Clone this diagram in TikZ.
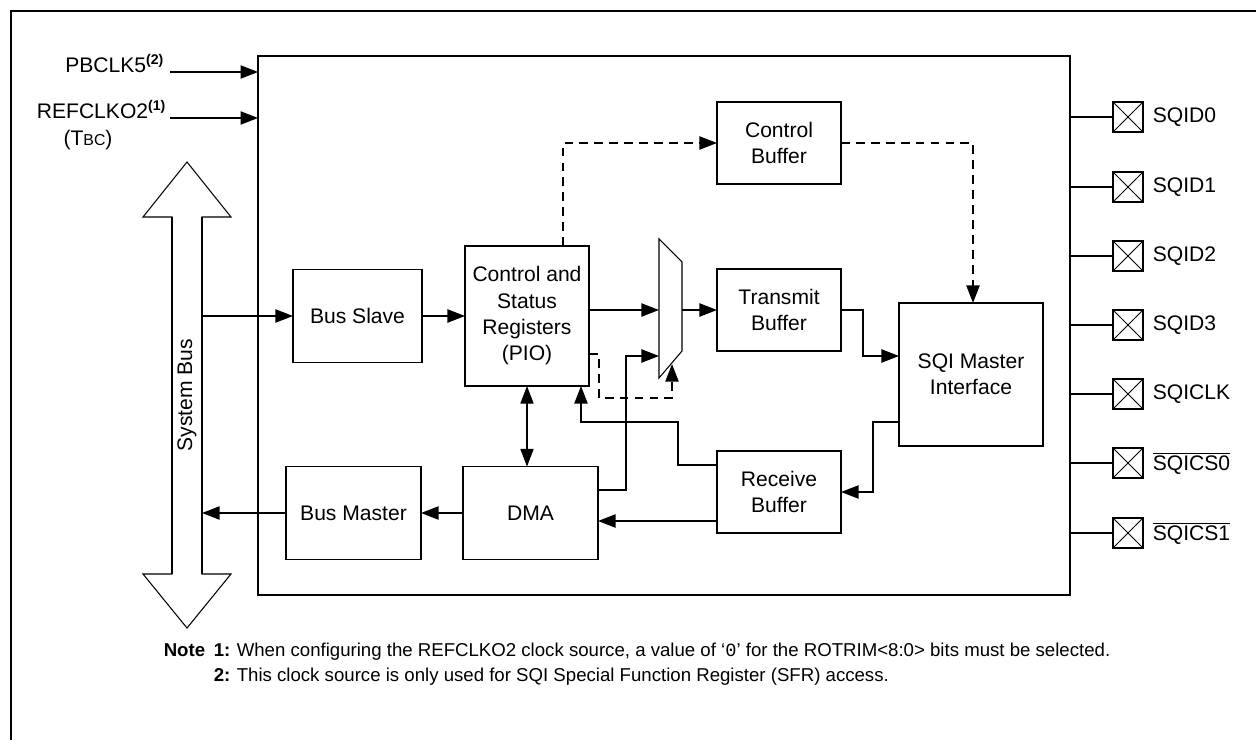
\documentclass[tikz,border=0pt]{standalone}
\usepackage{fontspec}
\setmainfont{Liberation Sans}
\setmonofont{Liberation Mono}
\usetikzlibrary{arrows.meta}

\begin{document}
\begin{tikzpicture}[x=0.02cm,y=-0.02cm,line width=0.9pt,
	blk/.style={draw,rectangle,inner sep=1pt,outer sep=0pt,align=center,font=\fontsize{12}{15}\selectfont},
	lbl/.style={inner sep=0pt,font=\fontsize{12}{15}\selectfont},
	arr/.style={-{Triangle[length=10pt,width=7.5pt]}},
	dsh/.style={dash pattern=on 5pt off 3.5pt},
	pinbox/.style={draw,minimum size=0.6cm,inner sep=0pt,outer sep=0pt,
		path picture={\draw[line width=0.5pt] (path picture bounding box.north west)--(path picture bounding box.south east)
			(path picture bounding box.north east)--(path picture bounding box.south west);}},
	notetxt/.style={anchor=base west,inner sep=0pt,font=\fontsize{10.6}{12}\selectfont}]
	\useasboundingbox (0,0) rectangle (1256,740);
	\draw (11,740) -- (11,11) -- (1256,11);

	\node[draw,minimum width=16.24cm,minimum height=10.78cm,outer sep=0pt] (sqimod) at (664,325.5) {};

	\node[lbl,anchor=base east] (pbclk) at (165,72) {PBCLK5\textsuperscript{\bfseries(2)}};
	\node[lbl,anchor=base east] (refclk) at (167,118) {REFCLKO2\textsuperscript{\bfseries(1)}};
	\node[lbl] (tbc) at (88,140) {(T{\fontsize{9}{10}\selectfont BC})};
	\draw[arr] ([xshift=0.1cm]pbclk.base east) -- (pbclk.base east -| sqimod.west);
	\draw[arr] ([xshift=0.06cm]refclk.base east) -- (refclk.base east -| sqimod.west);

	\draw[line width=0.6pt] (187,162) -- (231,217) -- (202,217) -- (202,574) -- (231,574) -- (187,628)
		-- (143,574) -- (172,574) -- (172,217) -- (143,217) -- cycle;
	\draw (172,217) -- (172,574) (202,217) -- (202,574);
	\node[lbl,rotate=90] (sysbus) at (187,395) {System Bus};
	\coordinate (bsin) at (202,316);
	\coordinate (bmout) at (202,513);

	\node[blk,minimum width=2.58cm,minimum height=1.86cm] (busslave) at (357.5,316) {Bus Slave};
	\node[blk,minimum width=2.7cm,minimum height=1.86cm] (busmaster) at (353.5,513) {Bus Master};
	\node[blk,minimum width=2.7cm,minimum height=1.86cm] (dma) at (530.5,513) {DMA};
	\node[blk,minimum width=2.48cm,minimum height=2.8cm] (csr) at (527,316) {Control and\\Status\\Registers\\(PIO)};
	\node[blk,minimum width=2.48cm,minimum height=1.64cm] (ctrlbuf) at (779,143) {Control\\Buffer};
	\node[blk,minimum width=2.48cm,minimum height=1.64cm] (txbuf) at (779,310) {Transmit\\Buffer};
	\node[blk,minimum width=2.48cm,minimum height=1.64cm] (rxbuf) at (779,492) {Receive\\Buffer};
	\node[blk,minimum width=2.88cm,minimum height=2.86cm] (sqi) at (971,374.5) {SQI Master\\Interface};

	\draw[line width=0.6pt] (659,239) -- (682,262) -- (682,351) -- (659,378) -- cycle;
	\coordinate (muxa) at (659,310);
	\coordinate (muxb) at (659,356);
	\coordinate (muxo) at (682,310);
	\coordinate (muxs) at (672,364);

	\draw[arr] (bsin) -- (busslave);
	\draw[arr] (busslave) -- (csr);
	\draw[arr] (dma) -- (busmaster);
	\draw[arr] (busmaster) -- (bmout);
	\draw[arr] (csr.east |- muxa) -- (muxa);
	\draw[arr] ([yshift=0.46cm]dma.east) -- ++(28,0) |- (muxb);
	\draw[arr,dsh] ([yshift=-0.76cm]csr.east) -- ++(10,0) -- ++(0,44) -| (muxs);
	\draw[arr] (muxo) -- (txbuf.west);
	\draw[arr] (txbuf.east) -- ++(22,0) |- ([yshift=0.37cm]sqi.west);
	\draw[arr,dsh] ([xshift=0.72cm]csr.north) |- (ctrlbuf.west);
	\draw[arr,dsh] (ctrlbuf.east) -| ([xshift=0.04cm]sqi.north);
	\draw[arr] ([yshift=-0.95cm]sqi.west) -- ++(-26,0) |- (rxbuf.east);
	\draw[arr] ([yshift=0.54cm]rxbuf.west) -- ++(-39,0) -- ++(0,-43) -| ([xshift=1.08cm]csr.south);
	\draw[arr] ([yshift=-0.58cm]rxbuf.west) -- ([yshift=-0.58cm]rxbuf.west -| dma.east);
	\draw[{Triangle[length=10pt,width=7.5pt]}-{Triangle[length=10pt,width=7.5pt]},line width=0.6pt] (csr.south) -- (csr.south |- dma.north);

	\foreach \pn/\py [count=\i] in {SQID0/117,SQID1/187,SQID2/256,SQID3/325,SQICLK/394,$\overline{\mbox{SQICS0}}$/463,$\overline{\mbox{SQICS1}}$/533}{
		\node[pinbox] (pin\i) at (1128,\py) {};
		\node[lbl,anchor=west] (pinlbl\i) at ([xshift=0.18cm]pin\i.east) {\pn};
		\draw (pin\i.west -| sqimod.east) -- (pin\i.west);
	}

	\node[notetxt] (note) at (163,656) {\bfseries Note};
	\node[notetxt] (n1) at (213,656) {\bfseries 1:};
	\node[notetxt] (n1t) at (236,656) {When configuring the REFCLKO2 clock source, a value of `\texttt{0}' for the ROTRIM<8:0> bits must be selected.};
	\node[notetxt] (n2) at (213,681) {\bfseries 2:};
	\node[notetxt] (n2t) at (236,681) {This clock source is only used for SQI Special Function Register (SFR) access.};
\end{tikzpicture}
\end{document}
